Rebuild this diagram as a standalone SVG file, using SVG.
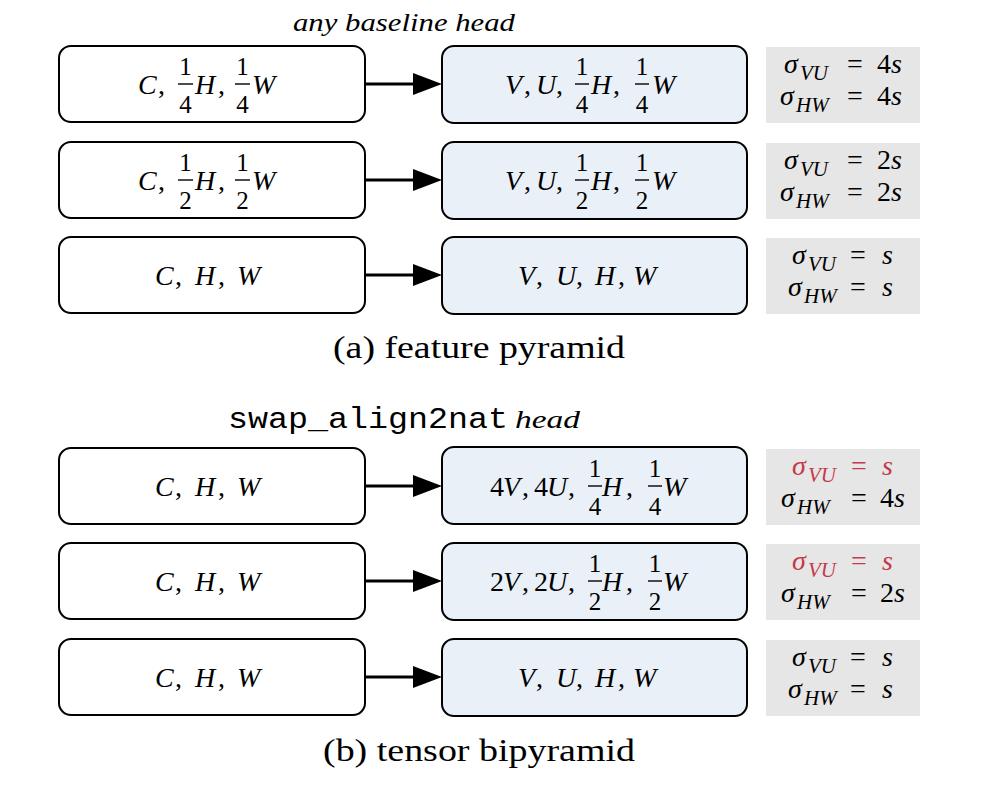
<svg xmlns="http://www.w3.org/2000/svg" width="984" height="790" viewBox="0 0 984 790">
<style>
text{font-family:"Liberation Serif","Times New Roman",Times,"Nimbus Roman",serif;fill:#000}
.m{font-size:28px;font-style:italic}
.u{font-size:28px}
.n{font-size:25px;text-anchor:middle}
.bar{stroke:#000;stroke-width:1.4}
.lb{fill:#fff;stroke:#000;stroke-width:2}
.rb{fill:#eaf0f7;stroke:#000;stroke-width:2}
.gb{fill:#e6e6e6}
.sub{font-size:21px;font-style:italic}
.red{fill:#c33a4a}
.cap{font-size:32px}
.hd{font-size:26px;font-style:italic}
.mono{font-family:"Liberation Mono","Courier New",Courier,monospace;font-size:30px}
.ln{stroke:#000;stroke-width:3;fill:none}
</style>
<rect width="984" height="790" fill="#fff"/>

<text class="hd" x="293" y="31" textLength="222" lengthAdjust="spacingAndGlyphs">any baseline head</text>
<text class="mono" x="228" y="428" textLength="280" lengthAdjust="spacingAndGlyphs">swap_align2nat</text>
<text class="hd" x="515" y="428" textLength="65" lengthAdjust="spacingAndGlyphs">head</text>

<!-- (a) row 1 -->
<g id="a1-in">
<rect class="lb" x="59" y="46" width="306" height="76" rx="12"/>
<text class="m" x="138" y="94">C</text><text class="u" x="158" y="94">,</text>
<text class="n" x="185.5" y="75">1</text><line class="bar" x1="178" y1="84" x2="193" y2="84"/><text class="n" x="185.5" y="113">4</text>
<text class="m" x="195" y="94">H</text><text class="u" x="218" y="94">,</text>
<text class="n" x="242.5" y="75">1</text><line class="bar" x1="235" y1="84" x2="250" y2="84"/><text class="n" x="242.5" y="113">4</text>
<text class="m" x="252" y="94">W</text>
</g>
<g id="a1-out">
<rect class="rb" x="442" y="46" width="305" height="77" rx="12"/>
<text class="m" x="505" y="94">V</text><text class="u" x="524" y="94">,</text>
<text class="m" x="536" y="94">U</text><text class="u" x="556" y="94">,</text>
<text class="n" x="582" y="75">1</text><line class="bar" x1="575" y1="84" x2="589" y2="84"/><text class="n" x="582" y="113">4</text>
<text class="m" x="591" y="94">H</text><text class="u" x="613" y="94">,</text>
<text class="n" x="642" y="75">1</text><line class="bar" x1="635" y1="84" x2="649" y2="84"/><text class="n" x="642" y="113">4</text>
<text class="m" x="652" y="94">W</text>
</g>
<g id="a1-sig">
<rect class="gb" x="766" y="47" width="154" height="76"/>
<text class="m" x="784" y="73">σ</text><text class="sub" x="800" y="80">VU</text><text class="u" x="847" y="73">=</text><text class="u" x="877" y="73">4</text><text class="m" x="891" y="73">s</text>
<text class="m" x="780" y="105">σ</text><text class="sub" x="796" y="112">HW</text><text class="u" x="847" y="105">=</text><text class="u" x="877" y="105">4</text><text class="m" x="891" y="105">s</text>
</g>

<!-- (a) row 2 -->
<g id="a2-in">
<rect class="lb" x="59" y="142" width="306" height="76" rx="12"/>
<text class="m" x="138" y="190">C</text><text class="u" x="158" y="190">,</text>
<text class="n" x="185.5" y="171">1</text><line class="bar" x1="178" y1="180" x2="193" y2="180"/><text class="n" x="185.5" y="209">2</text>
<text class="m" x="195" y="190">H</text><text class="u" x="218" y="190">,</text>
<text class="n" x="242.5" y="171">1</text><line class="bar" x1="235" y1="180" x2="250" y2="180"/><text class="n" x="242.5" y="209">2</text>
<text class="m" x="252" y="190">W</text>
</g>
<g id="a2-out">
<rect class="rb" x="442" y="142" width="305" height="77" rx="12"/>
<text class="m" x="505" y="190">V</text><text class="u" x="524" y="190">,</text>
<text class="m" x="536" y="190">U</text><text class="u" x="556" y="190">,</text>
<text class="n" x="582" y="171">1</text><line class="bar" x1="575" y1="180" x2="589" y2="180"/><text class="n" x="582" y="209">2</text>
<text class="m" x="591" y="190">H</text><text class="u" x="613" y="190">,</text>
<text class="n" x="642" y="171">1</text><line class="bar" x1="635" y1="180" x2="649" y2="180"/><text class="n" x="642" y="209">2</text>
<text class="m" x="652" y="190">W</text>
</g>
<g id="a2-sig">
<rect class="gb" x="766" y="143" width="154" height="76"/>
<text class="m" x="784" y="169">σ</text><text class="sub" x="800" y="176">VU</text><text class="u" x="847" y="169">=</text><text class="u" x="877" y="169">2</text><text class="m" x="891" y="169">s</text>
<text class="m" x="780" y="201">σ</text><text class="sub" x="796" y="208">HW</text><text class="u" x="847" y="201">=</text><text class="u" x="877" y="201">2</text><text class="m" x="891" y="201">s</text>
</g>

<!-- (a) row 3 -->
<g id="a3-in">
<rect class="lb" x="59" y="237" width="306" height="76" rx="12"/>
<text class="m" x="155" y="285">C</text><text class="u" x="175" y="285">,</text>
<text class="m" x="195" y="285">H</text><text class="u" x="218" y="285">,</text>
<text class="m" x="237" y="285">W</text>
</g>
<g id="a3-out">
<rect class="rb" x="442" y="237" width="305" height="77" rx="12"/>
<text class="m" x="518" y="285">V</text><text class="u" x="536" y="285">,</text>
<text class="m" x="556" y="285">U</text><text class="u" x="576" y="285">,</text>
<text class="m" x="595" y="285">H</text><text class="u" x="618" y="285">,</text>
<text class="m" x="633" y="285">W</text>
</g>
<g id="a3-sig">
<rect class="gb" x="766" y="238" width="154" height="76"/>
<text class="m" x="792" y="264">σ</text><text class="sub" x="808" y="271">VU</text><text class="u" x="850" y="264">=</text><text class="m" x="882" y="264">s</text>
<text class="m" x="788" y="296">σ</text><text class="sub" x="804" y="303">HW</text><text class="u" x="850" y="296">=</text><text class="m" x="882" y="296">s</text>
</g>

<text class="cap" x="333" y="358" textLength="292" lengthAdjust="spacingAndGlyphs">(a) feature pyramid</text>

<!-- (b) row 1 -->
<g id="b1-in">
<rect class="lb" x="59" y="448" width="306" height="76" rx="12"/>
<text class="m" x="155" y="496">C</text><text class="u" x="175" y="496">,</text>
<text class="m" x="195" y="496">H</text><text class="u" x="218" y="496">,</text>
<text class="m" x="237" y="496">W</text>
</g>
<g id="b1-out">
<rect class="rb" x="442" y="447" width="305" height="77" rx="12"/>
<text class="u" x="490" y="496">4</text><text class="m" x="503" y="496">V</text><text class="u" x="522" y="496">,</text>
<text class="u" x="534" y="496">4</text><text class="m" x="547" y="496">U</text><text class="u" x="568" y="496">,</text>
<text class="n" x="595" y="477">1</text><line class="bar" x1="588" y1="486" x2="602" y2="486"/><text class="n" x="595" y="515">4</text>
<text class="m" x="602" y="496">H</text><text class="u" x="626" y="496">,</text>
<text class="n" x="655" y="477">1</text><line class="bar" x1="648" y1="486" x2="662" y2="486"/><text class="n" x="655" y="515">4</text>
<text class="m" x="663" y="496">W</text>
</g>
<g id="b1-sig">
<rect class="gb" x="766" y="449" width="154" height="76"/>
<text class="m red" x="792" y="475">σ</text><text class="sub red" x="808" y="482">VU</text><text class="u red" x="851" y="475">=</text><text class="m red" x="882" y="475">s</text>
<text class="m" x="781" y="507">σ</text><text class="sub" x="797" y="514">HW</text><text class="u" x="851" y="507">=</text><text class="u" x="880" y="507">4</text><text class="m" x="894" y="507">s</text>
</g>

<!-- (b) row 2 -->
<g id="b2-in">
<rect class="lb" x="59" y="543" width="306" height="76" rx="12"/>
<text class="m" x="155" y="591">C</text><text class="u" x="175" y="591">,</text>
<text class="m" x="195" y="591">H</text><text class="u" x="218" y="591">,</text>
<text class="m" x="237" y="591">W</text>
</g>
<g id="b2-out">
<rect class="rb" x="442" y="543" width="305" height="77" rx="12"/>
<text class="u" x="490" y="591">2</text><text class="m" x="503" y="591">V</text><text class="u" x="522" y="591">,</text>
<text class="u" x="534" y="591">2</text><text class="m" x="547" y="591">U</text><text class="u" x="568" y="591">,</text>
<text class="n" x="595" y="572">1</text><line class="bar" x1="588" y1="581" x2="602" y2="581"/><text class="n" x="595" y="610">2</text>
<text class="m" x="602" y="591">H</text><text class="u" x="626" y="591">,</text>
<text class="n" x="655" y="572">1</text><line class="bar" x1="648" y1="581" x2="662" y2="581"/><text class="n" x="655" y="610">2</text>
<text class="m" x="663" y="591">W</text>
</g>
<g id="b2-sig">
<rect class="gb" x="766" y="544" width="154" height="76"/>
<text class="m red" x="792" y="570">σ</text><text class="sub red" x="808" y="577">VU</text><text class="u red" x="851" y="570">=</text><text class="m red" x="882" y="570">s</text>
<text class="m" x="781" y="602">σ</text><text class="sub" x="797" y="609">HW</text><text class="u" x="851" y="602">=</text><text class="u" x="880" y="602">2</text><text class="m" x="894" y="602">s</text>
</g>

<!-- (b) row 3 -->
<g id="b3-in">
<rect class="lb" x="59" y="639" width="306" height="76" rx="12"/>
<text class="m" x="155" y="687">C</text><text class="u" x="175" y="687">,</text>
<text class="m" x="195" y="687">H</text><text class="u" x="218" y="687">,</text>
<text class="m" x="237" y="687">W</text>
</g>
<g id="b3-out">
<rect class="rb" x="442" y="639" width="305" height="77" rx="12"/>
<text class="m" x="518" y="687">V</text><text class="u" x="536" y="687">,</text>
<text class="m" x="556" y="687">U</text><text class="u" x="576" y="687">,</text>
<text class="m" x="595" y="687">H</text><text class="u" x="618" y="687">,</text>
<text class="m" x="633" y="687">W</text>
</g>
<g id="b3-sig">
<rect class="gb" x="766" y="640" width="154" height="76"/>
<text class="m" x="792" y="666">σ</text><text class="sub" x="808" y="673">VU</text><text class="u" x="850" y="666">=</text><text class="m" x="882" y="666">s</text>
<text class="m" x="788" y="698">σ</text><text class="sub" x="804" y="705">HW</text><text class="u" x="850" y="698">=</text><text class="m" x="882" y="698">s</text>
</g>

<text class="cap" x="323" y="761" textLength="312" lengthAdjust="spacingAndGlyphs">(b) tensor bipyramid</text>

<g id="connectors">
<line class="ln" x1="365" y1="84" x2="416" y2="84"/><polygon points="413,73 442,84 413,95"/>
<line class="ln" x1="365" y1="180" x2="416" y2="180"/><polygon points="413,169 442,180 413,191"/>
<line class="ln" x1="365" y1="275" x2="416" y2="275"/><polygon points="413,264 442,275 413,286"/>
<line class="ln" x1="365" y1="486" x2="416" y2="486"/><polygon points="413,475 442,486 413,497"/>
<line class="ln" x1="365" y1="581" x2="416" y2="581"/><polygon points="413,570 442,581 413,592"/>
<line class="ln" x1="365" y1="677" x2="416" y2="677"/><polygon points="413,666 442,677 413,688"/>
</g>
</svg>
